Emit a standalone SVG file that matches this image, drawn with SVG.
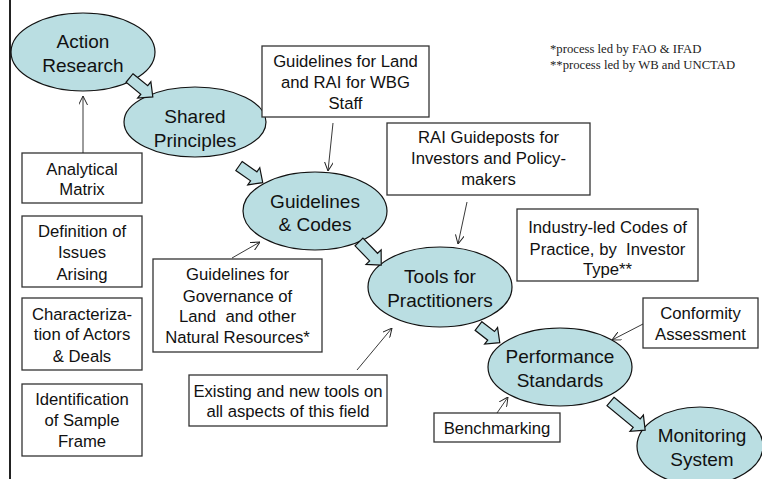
<svg xmlns="http://www.w3.org/2000/svg" width="762" height="479" viewBox="0 0 762 479">
<style>
  .ell { fill: #BADEE2; stroke: #111; stroke-width: 1.2; }
  .box { fill: #fff; stroke: #333; stroke-width: 1.3; }
  .et { font-family: "Liberation Sans", Arial, sans-serif; font-size: 19px; fill: #111; text-anchor: middle; }
  .bt { font-family: "Liberation Sans", Arial, sans-serif; font-size: 16.7px; fill: #111; text-anchor: middle; white-space: pre; }
  .note { font-family: "Liberation Serif", "Times New Roman", serif; font-size: 12.7px; fill: #222; }
  .thin { stroke: #222; stroke-width: 0.9; fill: none; marker-end: url(#open); }
  .blk { fill: #BADEE2; stroke: #111; stroke-width: 1.2; stroke-linejoin: miter; }
</style>
<defs>
  <marker id="open" viewBox="0 0 10 10" refX="10" refY="5" markerWidth="9" markerHeight="9" markerUnits="userSpaceOnUse" orient="auto">
    <path d="M0,0 L10,5 L0,10" fill="none" stroke="#222" stroke-width="1.1"/>
  </marker>
</defs>

<line x1="10" y1="0" x2="10" y2="479" stroke="#222" stroke-width="2"/>

<g id="note">
  <text class="note" x="550" y="53">*process led by FAO &amp; IFAD</text>
  <text class="note" x="550" y="69">**process led by WB and UNCTAD</text>
</g>

<g id="action-research">
  <ellipse class="ell" cx="83" cy="52" rx="72" ry="39"/>
  <text class="et" x="83" y="48">Action</text>
  <text class="et" x="83" y="72">Research</text>
</g>
<g id="shared-principles">
  <ellipse class="ell" cx="195" cy="122" rx="71" ry="35"/>
  <text class="et" x="195" y="123">Shared</text>
  <text class="et" x="195" y="147">Principles</text>
</g>
<g id="guidelines-codes">
  <ellipse class="ell" cx="315" cy="211" rx="72" ry="39"/>
  <text class="et" x="315" y="208">Guidelines</text>
  <text class="et" x="315" y="231">&amp; Codes</text>
</g>
<g id="tools-practitioners">
  <ellipse class="ell" cx="440" cy="287" rx="72" ry="40"/>
  <text class="et" x="440" y="283">Tools for</text>
  <text class="et" x="440" y="307">Practitioners</text>
</g>
<g id="performance-standards">
  <ellipse class="ell" cx="560" cy="367" rx="72" ry="39"/>
  <text class="et" x="560" y="363">Performance</text>
  <text class="et" x="560" y="387">Standards</text>
</g>
<g id="monitoring-system">
  <ellipse class="ell" cx="700" cy="446" rx="63" ry="39"/>
  <text class="et" x="702" y="442">Monitoring</text>
  <text class="et" x="702" y="466">System</text>
</g>

<g id="box-wbg">
  <rect class="box" x="262" y="46" width="167" height="71"/>
  <text class="bt" x="345.5" y="67">Guidelines for Land</text>
  <text class="bt" x="345.5" y="88">and RAI for WBG</text>
  <text class="bt" x="345.5" y="109">Staff</text>
</g>
<g id="box-analytical">
  <rect class="box" x="22" y="153" width="120" height="50"/>
  <text class="bt" x="82" y="175">Analytical</text>
  <text class="bt" x="82" y="195">Matrix</text>
</g>
<g id="box-definition">
  <rect class="box" x="22" y="216" width="120" height="71"/>
  <text class="bt" x="82" y="237">Definition of</text>
  <text class="bt" x="82" y="258">Issues</text>
  <text class="bt" x="82" y="280">Arising</text>
</g>
<g id="box-characterization">
  <rect class="box" x="22" y="298" width="120" height="72"/>
  <text class="bt" x="82" y="320">Characteriza-</text>
  <text class="bt" x="82" y="340">tion of Actors</text>
  <text class="bt" x="82" y="362">&amp; Deals</text>
</g>
<g id="box-identification">
  <rect class="box" x="22" y="384" width="120" height="72"/>
  <text class="bt" x="82" y="405">Identification</text>
  <text class="bt" x="82" y="426">of Sample</text>
  <text class="bt" x="82" y="447">Frame</text>
</g>
<g id="box-governance">
  <rect class="box" x="153" y="259" width="169" height="93"/>
  <text class="bt" x="237.5" y="280">Guidelines for</text>
  <text class="bt" x="237.5" y="302">Governance of</text>
  <text class="bt" x="237.5" y="322">Land  and other</text>
  <text class="bt" x="237.5" y="343">Natural Resources*</text>
</g>
<g id="box-existing">
  <rect class="box" x="189" y="375" width="198" height="51"/>
  <text class="bt" x="288" y="397">Existing and new tools on</text>
  <text class="bt" x="288" y="417">all aspects of this field</text>
</g>
<g id="box-rai">
  <rect class="box" x="387" y="123" width="203" height="72"/>
  <text class="bt" x="488.5" y="143">RAI Guideposts for</text>
  <text class="bt" x="488.5" y="164">Investors and Policy-</text>
  <text class="bt" x="488.5" y="185">makers</text>
</g>
<g id="box-industry">
  <rect class="box" x="517" y="209" width="181" height="72"/>
  <text class="bt" x="607.5" y="233">Industry-led Codes of</text>
  <text class="bt" x="607.5" y="255">Practice, by  Investor</text>
  <text class="bt" x="607.5" y="275">Type**</text>
</g>
<g id="box-conformity">
  <rect class="box" x="643" y="298" width="115" height="50"/>
  <text class="bt" x="700.5" y="319">Conformity</text>
  <text class="bt" x="700.5" y="340">Assessment</text>
</g>
<g id="box-benchmarking">
  <rect class="box" x="434" y="413" width="126" height="29"/>
  <text class="bt" x="497" y="434">Benchmarking</text>
</g>

<g id="connectors">
  <path class="blk" transform="translate(129.5,78) rotate(39)" d="M0,-5.5 L19,-5.5 L19,-10.5 L30,0 L19,10.5 L19,5.5 L0,5.5 Z"/>
  <path class="blk" transform="translate(239,166) rotate(35)" d="M0,-5.5 L18,-5.5 L18,-10.5 L29,0 L18,10.5 L18,5.5 L0,5.5 Z"/>
  <path class="blk" transform="translate(359,242) rotate(46)" d="M0,-5.5 L21,-5.5 L21,-10.5 L32,0 L21,10.5 L21,5.5 L0,5.5 Z"/>
  <path class="blk" transform="translate(478.5,326) rotate(38)" d="M0,-5.5 L16,-5.5 L16,-10.5 L27,0 L16,10.5 L16,5.5 L0,5.5 Z"/>
  <path class="blk" transform="translate(610.5,401.5) rotate(39.6)" d="M0,-5.5 L34,-5.5 L34,-10.5 L45,0 L34,10.5 L34,5.5 L0,5.5 Z"/>

  <line class="thin" x1="83" y1="153" x2="83" y2="96"/>
  <line class="thin" x1="333" y1="123" x2="328" y2="171"/>
  <line class="thin" x1="232" y1="258" x2="260" y2="242"/>
  <line class="thin" x1="467" y1="202" x2="458" y2="244"/>
  <line class="thin" x1="357" y1="370" x2="392" y2="328"/>
  <line class="thin" x1="643" y1="324" x2="612" y2="340"/>
  <line class="thin" x1="497" y1="413" x2="508" y2="397"/>
</g>
</svg>
